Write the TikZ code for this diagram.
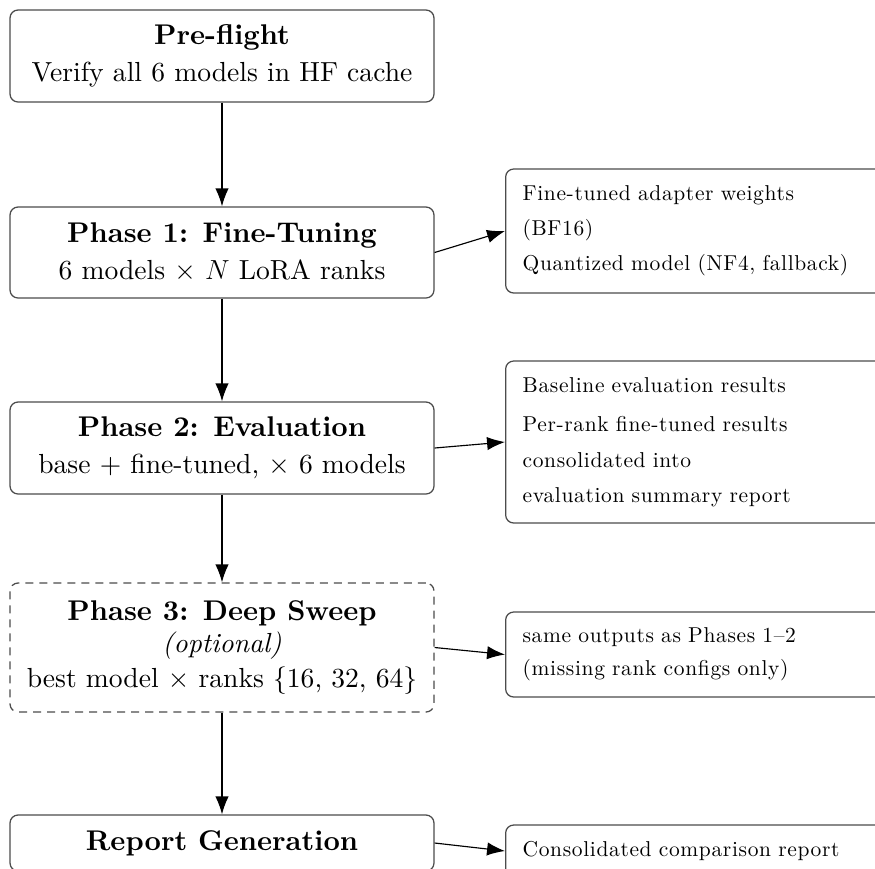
\documentclass[tikz,border=0pt]{standalone}
\usepackage{fontspec}
\setmainfont{lmroman10-regular}[Extension=.otf,
  BoldFont=lmroman10-bold, ItalicFont=lmroman10-italic,
  BoldItalicFont=lmroman10-bolditalic]
\newfontfamily\outfont{lmroman10-regular}[Extension=.otf,
  Ligatures=TeX, LetterSpace=3]
\usetikzlibrary{arrows.meta}
\newcommand{\pxu}{0.435pt}
\newcommand{\stagetitle}[1]{{\fontsize{12.4}{14.4}\selectfont\bfseries #1}}
\begin{document}
\begin{tikzpicture}[x=\pxu,y=-\pxu,
  phase/.style={draw=black!70, line width=0.55pt, rounded corners=3.5pt,
    minimum width=424*\pxu, align=center, inner sep=0pt,
    font=\fontsize{12}{14.4}\selectfont},
  optional/.style={phase, dash pattern=on 3.5pt off 2.6pt},
  outbox/.style={draw=black!70, line width=0.55pt, rounded corners=3.5pt,
    anchor=west, align=left, font=\outfont\fontsize{9.35}{11.5}\selectfont,
    inner ysep=0pt, inner xsep=17*\pxu, text width=400*\pxu},
  flow/.style={-{Latex[length=7.8pt,width=5.8pt]}, line width=0.5pt}]
\useasboundingbox (0,0) rectangle (875,868);
\clip (0,0) rectangle (875,868);

% main pipeline
\node[phase, minimum height=92*\pxu] (pre) at (222,56)
  {\stagetitle{Pre-flight}\\[1.6pt] Verify all 6 models in HF cache};
\node[phase, minimum height=91*\pxu] (ft) at (222,252.5)
  {\stagetitle{Phase 1: Fine-Tuning}\\[1.6pt] 6 models $\times$ $N$ LoRA ranks};
\node[phase, minimum height=92*\pxu] (ev) at (222,448)
  {\stagetitle{Phase 2: Evaluation}\\[1.6pt] base + fine-tuned, $\times$ 6 models};
\node[optional, minimum height=129*\pxu] (ds) at (222,647.5)
  {\stagetitle{Phase 3: Deep Sweep}\\[-0.5pt] \textit{(optional)}\\[0.8pt]
   best model $\times$ ranks \{16, 32, 64\}};
\node[phase, minimum height=56*\pxu] (rg) at (222,843)
  {\stagetitle{Report Generation}};

% outputs of each stage
\node[outbox, minimum height=124*\pxu] (o1) at (505,231)
  {Fine-tuned adapter weights\\[3.6pt] (BF16)\\[4pt] Quantized model (NF4, fallback)};
\node[outbox, minimum height=162*\pxu] (o2) at (505,442)
  {Baseline evaluation results\\[5.5pt] Per-rank fine-tuned results\\[4.5pt]
   consolidated into\\[3.5pt] evaluation summary report};
\node[outbox, minimum height=85*\pxu] (o3) at (505,654.5)
  {same outputs as Phases 1--2\\[2.8pt] (missing rank configs only)};
\node[outbox, minimum height=52*\pxu] (o4) at (505,851)
  {Consolidated comparison report};

% connectors
\draw[flow] (pre) -- (ft);
\draw[flow] (ft) -- (ev);
\draw[flow] (ev) -- (ds);
\draw[flow] (ds) -- (rg);
\draw[flow] (ft.east) -- (o1.west);
\draw[flow] (ev.east) -- (o2.west);
\draw[flow] (ds.east) -- (o3.west);
\draw[flow] (rg.east) -- (o4.west);
\end{tikzpicture}
\end{document}
